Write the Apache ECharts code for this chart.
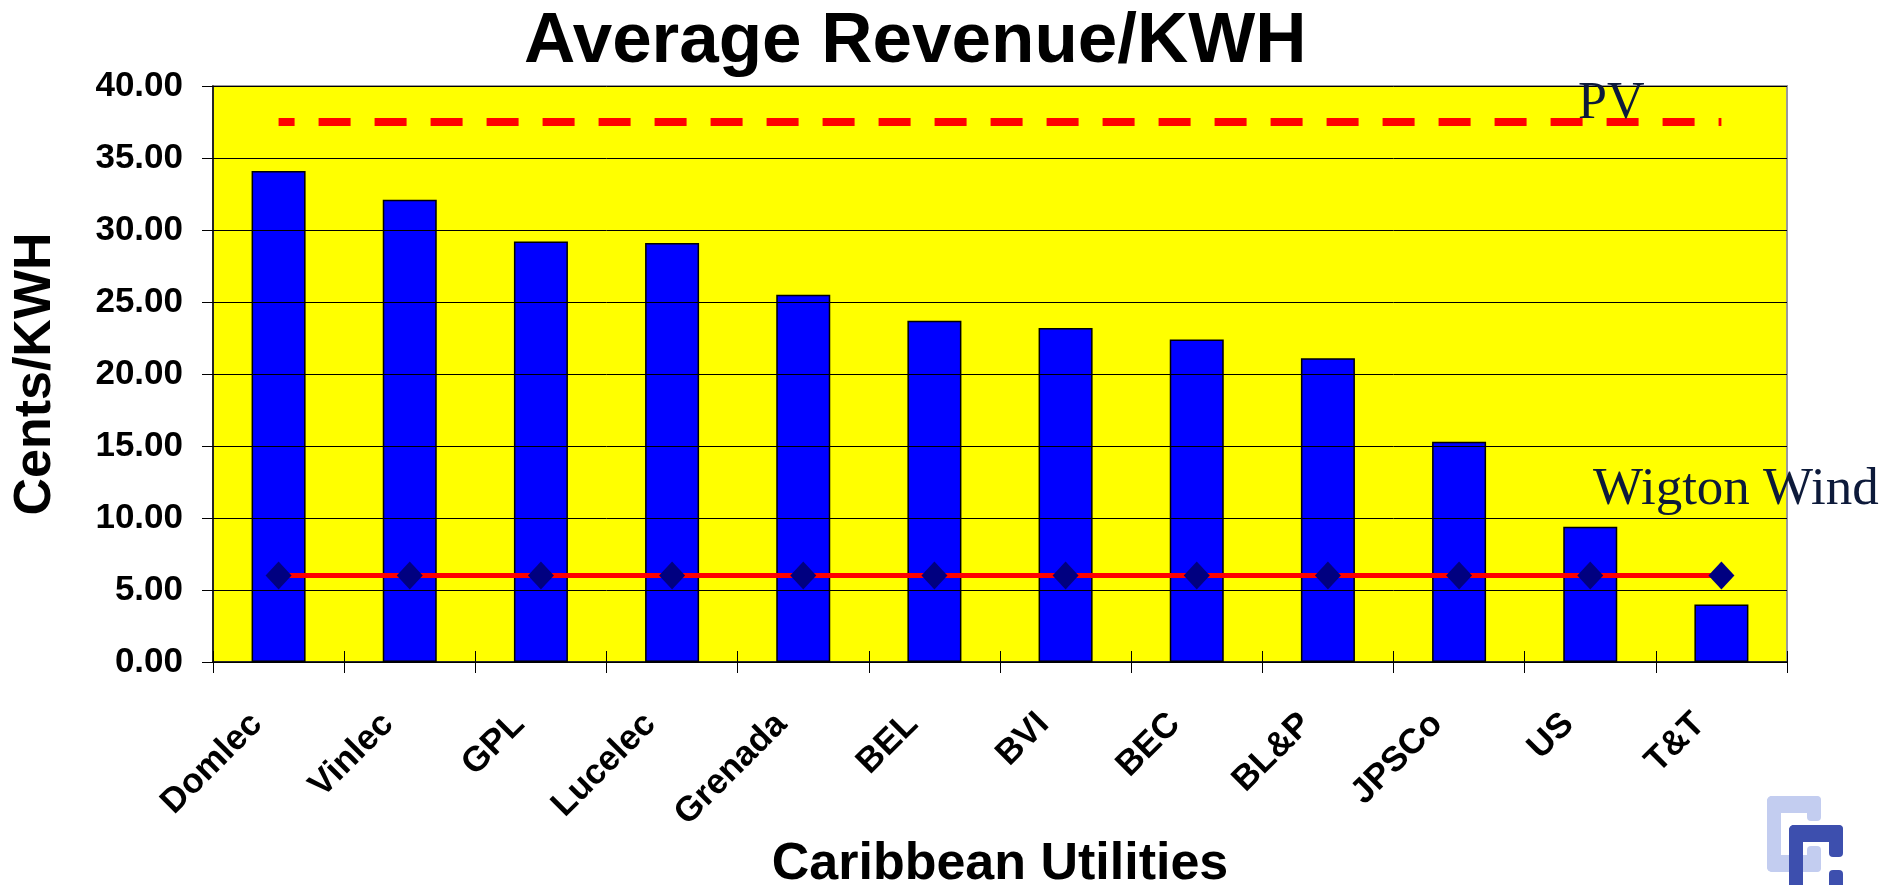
<!DOCTYPE html>
<html>
<head>
<meta charset="utf-8">
<title>Average Revenue/KWH</title>
<script src="https://cdn.jsdelivr.net/npm/echarts@6/dist/echarts.min.js"></script>
<style>
html, body { margin: 0; padding: 0; background: #fff; }
#main { width: 1901px; height: 885px; }
</style>
</head>
<body>
<div id="main"></div>
<script>
var utilities = ['Domlec', 'Vinlec', 'GPL', 'Lucelec', 'Grenada', 'BEL', 'BVI', 'BEC', 'BL&P', 'JPSCo', 'US', 'T&T'];
var revenue = [34.1, 32.1, 29.2, 29.1, 25.5, 23.7, 23.2, 22.4, 21.1, 15.3, 9.4, 4.0];
var wigtonWind = [6.0, 6.0, 6.0, 6.0, 6.0, 6.0, 6.0, 6.0, 6.0, 6.0, 6.0, 6.0];
var pv = [37.5, 37.5, 37.5, 37.5, 37.5, 37.5, 37.5, 37.5, 37.5, 37.5, 37.5, 37.5];
var yTicks = [0, 5, 10, 15, 20, 25, 30, 35, 40];

var boldFont = 'Liberation Sans';

function initChart(containerId) {
    var gridBox = {left: 213, right: 114, top: 86, bottom: 223};

    var option = {
        animation: false,
        backgroundColor: '#ffffff',
        title: {
            text: 'Average Revenue/KWH',
            left: 519,
            top: 2,
            textStyle: {fontFamily: boldFont, fontWeight: 'bold', fontSize: 71, color: '#000'}
        },
        grid: [
            {left: gridBox.left, right: gridBox.right, top: gridBox.top, bottom: gridBox.bottom,
                outerBoundsMode: 'none', containLabel: false,
                show: true, backgroundColor: '#ffff00', borderColor: '#999999', borderWidth: 2},
            // second grid only to draw the inner half of the x ticks
            {left: gridBox.left, right: gridBox.right, top: gridBox.top, bottom: gridBox.bottom,
                outerBoundsMode: 'none', containLabel: false}
        ],
        xAxis: [
            {
                type: 'category',
                data: utilities,
                name: 'Caribbean Utilities',
                nameLocation: 'middle',
                nameGap: 168,
                nameTextStyle: {fontFamily: boldFont, fontWeight: 'bold', fontSize: 52, color: '#000'},
                axisLine: {lineStyle: {color: '#000', width: 1.5}},
                axisTick: {show: true, length: 11, lineStyle: {color: '#000', width: 1}},
                axisLabel: {
                    interval: 0, rotate: 45, margin: 35, padding: [0, 31, 0, 0],
                    fontFamily: boldFont, fontWeight: 'bold', fontSize: 35, color: '#000'
                },
                z: 5
            },
            {
                type: 'category',
                gridIndex: 1,
                data: utilities,
                axisLine: {show: false},
                axisTick: {show: true, inside: true, length: 11, lineStyle: {color: '#000', width: 1}},
                axisLabel: {show: false}
            }
        ],
        yAxis: [
            {
                type: 'value',
                min: yTicks[0],
                max: yTicks[yTicks.length - 1],
                interval: 5,
                name: 'Cents/KWH',
                nameLocation: 'middle',
                nameGap: 151,
                nameTextStyle: {fontFamily: boldFont, fontWeight: 'bold', fontSize: 52, color: '#000'},
                axisLine: {show: true, lineStyle: {color: '#000', width: 1.5}},
                axisTick: {show: true, length: 11, lineStyle: {color: '#000', width: 1}},
                axisLabel: {
                    margin: 30,
                    fontFamily: boldFont, fontWeight: 'bold', fontSize: 35, color: '#000',
                    formatter: function (v) { return v.toFixed(2); }
                },
                splitLine: {show: true, lineStyle: {color: '#000', width: 1}},
                z: 5
            },
            {
                type: 'value',
                gridIndex: 1,
                min: 0, max: 40, interval: 5,
                show: false
            }
        ],
        series: [
            {
                name: 'Revenue',
                type: 'bar',
                data: revenue,
                barWidth: 54,
                itemStyle: {color: '#0000ff', borderColor: '#000', borderWidth: 1.5},
                z: 2
            },
            {
                name: 'PV',
                type: 'line',
                data: pv,
                symbol: 'none',
                lineStyle: {color: '#ff0000', width: 8, type: [32, 24], dashOffset: 16},
                z: 3
            },
            {
                name: 'Wigton Wind',
                type: 'line',
                data: wigtonWind,
                symbol: 'diamond',
                symbolSize: [26, 28],
                lineStyle: {color: '#ff0000', width: 5},
                itemStyle: {color: '#000080'},
                z: 4
            }
        ],
        graphic: [
            {type: 'text', z: 10, style: {text: 'PV', x: 1578, y: 104, textVerticalAlign: 'middle',
                font: '52px "Liberation Serif"', fill: '#0d1a3a'}},
            {type: 'text', z: 10, style: {text: 'Wigton Wind', x: 1593, y: 490, textVerticalAlign: 'middle',
                font: '53px "Liberation Serif"', fill: '#0d1a3a'}},
            // logo, bottom right
            {type: 'group', left: 1767, top: 796, children: [
                {type: 'rect', shape: {x: 0, y: 0, width: 54, height: 17, r: 5}, style: {fill: '#c3cdf0'}},
                {type: 'rect', shape: {x: 0, y: 0, width: 14, height: 76, r: 5}, style: {fill: '#c3cdf0'}},
                {type: 'rect', shape: {x: 0, y: 59, width: 54, height: 17, r: 5}, style: {fill: '#c3cdf0'}},
                {type: 'rect', shape: {x: 40, y: 0, width: 14, height: 25, r: 4}, style: {fill: '#c3cdf0'}},
                {type: 'rect', shape: {x: 40, y: 50, width: 14, height: 26, r: 4}, style: {fill: '#c3cdf0'}},
                {type: 'rect', shape: {x: 22, y: 29, width: 54, height: 17, r: 5}, style: {fill: '#3d4fae'}},
                {type: 'rect', shape: {x: 22, y: 29, width: 14, height: 70, r: 5}, style: {fill: '#3d4fae'}},
                {type: 'rect', shape: {x: 62, y: 29, width: 14, height: 32, r: 4}, style: {fill: '#3d4fae'}},
                {type: 'rect', shape: {x: 62, y: 74, width: 14, height: 25, r: 4}, style: {fill: '#3d4fae'}}
            ]}
        ]
    };

    var myChart = echarts.init(document.getElementById(containerId));
    myChart.setOption(option);
}

initChart('main');
</script>
</body>
</html>
